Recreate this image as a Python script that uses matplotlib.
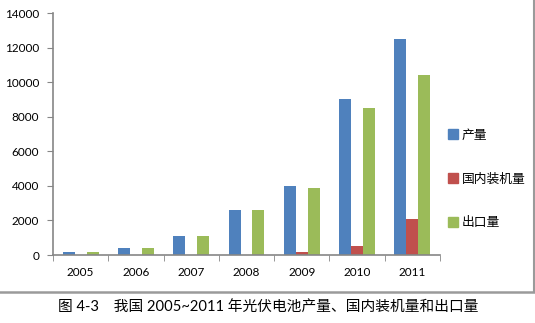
import numpy as np
import matplotlib.pyplot as plt
from matplotlib.lines import Line2D

years = ['2005', '2006', '2007', '2008', '2009', '2010', '2011']
production = [200, 400, 1100, 2600, 4000, 9000, 12500]
installed = [0, 0, 0, 0, 150, 500, 2100]
exports = [200, 400, 1100, 2600, 3850, 8500, 10400]
series_names = ['产量', '国内装机量', '出口量']
caption = '图 4-3　我国 2005~2011 年光伏电池产量、国内装机量和出口量'

colors = ['#4F81BD', '#C0504D', '#9BBB59']
axis_gray = '#868686'

fig = plt.figure(figsize=(5.35, 3.23), dpi=100)
ax = fig.add_axes([53 / 535, 1 - 255 / 323, 387 / 535, 242 / 323])

x = np.arange(len(years))
w = 0.217
for i, (vals, name) in enumerate(zip([production, installed, exports], series_names)):
    ax.bar(x + (i - 1) * w, vals, width=w, color=colors[i], label=name, zorder=2)

ax.set_xlim(-0.5, len(years) - 0.5)
ax.set_ylim(0, 14000)
ax.set_yticks(range(0, 14001, 2000))
ax.set_xticks(x)
ax.set_xticklabels(years)
ax.set_xticks(np.arange(-0.5, len(years)), minor=True)
ax.tick_params(axis='x', which='major', length=0, pad=9, labelsize=8.5)
ax.tick_params(axis='x', which='minor', length=4, color=axis_gray, direction='out')
ax.tick_params(axis='y', length=4, color=axis_gray, direction='out', labelsize=8.5, pad=6)
for lab in ax.get_xticklabels() + ax.get_yticklabels():
    lab.set_fontfamily('Lato')

for s in ['top', 'right']:
    ax.spines[s].set_visible(False)
for s in ['left', 'bottom']:
    ax.spines[s].set_color(axis_gray)
    ax.spines[s].set_linewidth(1.2)

# legend with small square markers
handles = [Line2D([0], [0], marker='s', linestyle='', markersize=6.5,
                  markerfacecolor=c, markeredgecolor=c) for c in colors]
leg = fig.legend(handles, series_names, loc='center left',
                 bbox_to_anchor=(436 / 535, 1 - 179 / 323), frameon=False,
                 handlelength=0.8, handletextpad=0.3, labelspacing=2.4,
                 prop={'family': 'Noto Sans CJK SC', 'size': 9.2})

# chart frame: bottom and right edges
fig.add_artist(Line2D([0, 533.5 / 535], [1 - 292 / 323] * 2, color='#9a9a9a', lw=1.8,
                      transform=fig.transFigure))
fig.add_artist(Line2D([533.5 / 535] * 2, [1 - 292 / 323, 1], color='#9a9a9a', lw=1.5,
                      transform=fig.transFigure))

fig.text(268 / 535, 1 - 307 / 323, caption, ha='center', va='center', fontsize=10.6,
         family=['Lato', 'Noto Sans CJK SC'])

fig.savefig('out.png', dpi=100)
